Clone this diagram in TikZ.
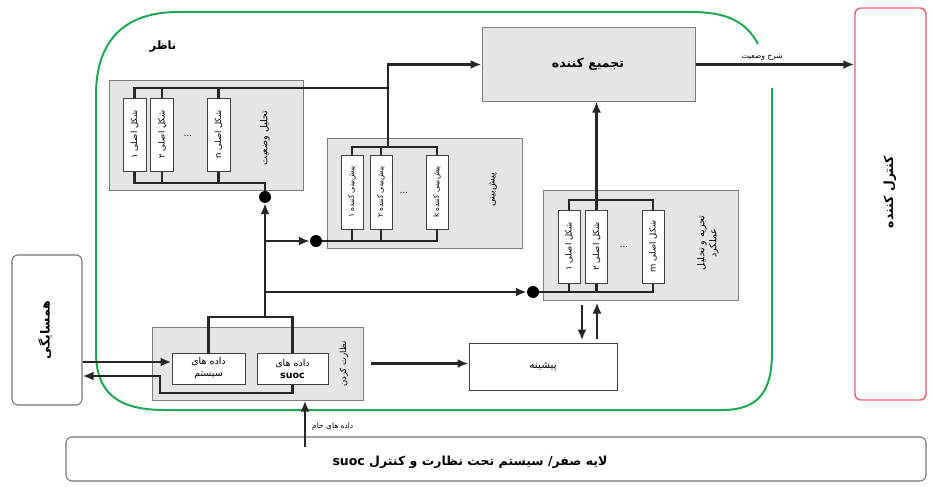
\documentclass[tikz,border=0pt]{standalone}
\usepackage{fontspec}
\usetikzlibrary{arrows.meta,calc}
\TeXXeTstate=1
\newfontfamily\fa[Script=Arabic]{DejaVu Sans}
\setmainfont{DejaVu Sans}
\newcommand\RT[1]{\beginR #1\endR}
\newcommand\LT[1]{\beginL #1\endL}
\definecolor{grn}{RGB}{30,170,85}
\definecolor{rd}{RGB}{230,95,110}
\definecolor{grpfill}{RGB}{229,229,229}
\definecolor{grpdraw}{RGB}{125,125,125}
\tikzset{
 grp/.style={draw=grpdraw, fill=grpfill, line width=1pt, inner sep=0pt},
 wbox/.style={draw=black!75, fill=white, line width=1pt, inner sep=0pt},
 conn/.style={line width=2.2pt, draw=black!85},
 arr/.style={conn, -{Latex[length=11pt,width=9pt]}},
 dotn/.style={circle, fill=black, inner sep=0pt, minimum size=12pt},
 lbl/.style={font=\fa\fontsize{8.5}{10}\selectfont, inner sep=0pt, align=center},
 slbl/.style={font=\fa\fontsize{7.5}{9}\selectfont, inner sep=0pt, align=center},
 glbl/.style={font=\fa\fontsize{9.5}{12}\selectfont, inner sep=0pt, align=center},
 big/.style={font=\fa\bfseries\fontsize{12.5}{15}\selectfont, inner sep=0pt, align=center},
}
\begin{document}
\begin{tikzpicture}[x=1pt,y=-1pt]
\path[use as bounding box] (0,0) rectangle (932,487);
% observer boundary
\draw[grn, line width=2pt] (758,44) .. controls (745,20) and (725,12) .. (690,12) -- (178,12)
  .. controls (125,12) and (96,40) .. (96,95) -- (96,352) .. controls (96,395) and (120,410) .. (165,410)
  -- (722,410) .. controls (760,410) and (772,390) .. (772,352) -- (772,88);
\node[big, font=\fa\bfseries\fontsize{11.5}{14}\selectfont] (naz) at (163,47) {\RT{ناظر}};
% controller
\node[draw=rd, line width=1.4pt, rounded corners=6pt, minimum width=71pt, minimum height=392pt, inner sep=0pt] (ctrl) at (890.5,204) {};
\node[big, rotate=90] (ctrlt) at (890,192) {\RT{کنترل کننده}};
% neighbour
\node[draw=black!55, line width=1.1pt, rounded corners=6pt, minimum width=70pt, minimum height=150pt, inner sep=0pt] (nb) at (47,330) {};
\node[big, rotate=90] (nbt) at (45,330) {\RT{همسایگی}};
% bottom layer
\node[draw=black!55, line width=1.1pt, rounded corners=6pt, minimum width=860pt, minimum height=44pt, inner sep=0pt] (layer) at (496,459) {};
\node[big] (layert) at (470,462) {\RT{لایه صفر/ سیستم تحت نظارت و کنترل \LT{suoc}}};
% aggregator
\node[grp, minimum width=213pt, minimum height=73pt] (agg) at (588.5,64.5) {};
\node[big] (aggt) at (588,64) {\RT{تجمیع کننده}};
% history
\node[wbox, minimum width=148pt, minimum height=47pt] (hist) at (543,366.5) {};
\node[glbl, font=\fa\fontsize{10.5}{12}\selectfont] (histt) at (543,367) {\RT{پیشینه}};
% group 1 : situation analysis
\node[grp, minimum width=194pt, minimum height=109pt] (g1) at (206,135.5) {};
\node[wbox, minimum width=23pt, minimum height=73pt] (g1b1) at (134.5,134.5) {};
\node[wbox, minimum width=23pt, minimum height=73pt] (g1b2) at (162,134.5) {};
\node[wbox, minimum width=23pt, minimum height=73pt] (g1b3) at (218.5,134.5) {};
\node[lbl, rotate=90] at (g1b1) {\RT{شکل اصلی ۱}};
\node[lbl, rotate=90] at (g1b2) {\RT{شکل اصلی ۲}};
\node[lbl, rotate=90] at (g1b3) {\RT{شکل اصلی \LT{n}}};
\node[lbl] (g1d) at (188,136) {...};
\node[glbl, rotate=90] (g1t) at (265,138) {\RT{تحلیل وضعیت}};
% group 2 : prediction
\node[grp, minimum width=195pt, minimum height=110pt] (g2) at (424.5,193) {};
\node[wbox, minimum width=22pt, minimum height=74pt] (g2b1) at (352,192) {};
\node[wbox, minimum width=22pt, minimum height=74pt] (g2b2) at (381,192) {};
\node[wbox, minimum width=22pt, minimum height=74pt] (g2b3) at (437,192) {};
\node[slbl, rotate=90] at (g2b1) {\RT{پیش‌بینی کننده ۱}};
\node[slbl, rotate=90] at (g2b2) {\RT{پیش‌بینی کننده ۲}};
\node[slbl, rotate=90] at (g2b3) {\RT{پیش‌بینی کننده \LT{k}}};
\node[lbl] (g2d) at (404,193) {...};
\node[glbl, rotate=90] (g2t) at (493,190) {\RT{پیش‌بینی}};
% group 3 : performance analysis
\node[grp, minimum width=195pt, minimum height=110pt] (g3) at (640.5,245) {};
\node[wbox, minimum width=22pt, minimum height=73pt] (g3b1) at (569,246.5) {};
\node[wbox, minimum width=22pt, minimum height=73pt] (g3b2) at (596.5,246.5) {};
\node[wbox, minimum width=22pt, minimum height=73pt] (g3b3) at (653,246.5) {};
\node[lbl, rotate=90] at (g3b1) {\RT{شکل اصلی ۱}};
\node[lbl, rotate=90] at (g3b2) {\RT{شکل اصلی ۲}};
\node[lbl, rotate=90] at (g3b3) {\RT{شکل اصلی \LT{m}}};
\node[lbl] (g3d) at (624,247) {...};
\node[glbl, rotate=90] (g3t) at (708,243) {\RT{تجزیه و تحلیل}\\\RT{عملکرد}};
% monitoring
\node[grp, minimum width=211pt, minimum height=73pt] (mon) at (257.5,363.5) {};
\node[wbox, minimum width=73pt, minimum height=31pt] (sys) at (208.5,368.5) {};
\node[wbox, minimum width=71pt, minimum height=31pt] (suoc) at (292.5,368.5) {};
\node[glbl] at (sys) {\RT{داده های}\\\RT{سیستم}};
\node[glbl] at (suoc) {\RT{داده های}\\\textbf{suoc}};
\node[lbl, rotate=90] (mont) at (344,364) {\RT{نظارت کردن}};
% dots
\node[dotn] (d1) at (265,197) {};
\node[dotn] (d2) at (316,241) {};
\node[dotn] (d3) at (533,292) {};
% coordinates
\coordinate (j1) at (388,88);
\coordinate (j2) at (388,147);
\coordinate (b1) at (265,183);
\coordinate (t3) at (0,200);
\coordinate (mj) at (265,317);
\coordinate (ya) at (0,362);
\coordinate (yb) at (0,376);
\coordinate (yc) at (0,393);
\coordinate (xc) at (160,0);
\coordinate (rawb) at (305,447);
% group 1 buses
\draw[conn] (g1b1.north) |- (j1);
\draw[conn] (g1b2.north) -- (g1b2.north |- j1);
\draw[conn] (g1b3.north) -- (g1b3.north |- j1);
\draw[conn] (g1b1.south) |- (b1) -- (d1.north);
\draw[conn] (g1b2.south) -- (g1b2.south |- b1);
\draw[conn] (g1b3.south) -- (g1b3.south |- b1);
% group 2 buses
\draw[conn] (g2b1.north) |- (g2b3.north |- j2) -- (g2b3.north);
\draw[conn] (g2b2.north) -- (g2b2.north |- j2);
\draw[conn] (d2.east) -- (g2b3.south |- d2.east) -- (g2b3.south);
\draw[conn] (g2b1.south) -- (g2b1.south |- d2.east);
\draw[conn] (g2b2.south) -- (g2b2.south |- d2.east);
% to aggregator
\draw[arr] (j2) |- (agg.west);
% group 3 buses
\draw[conn] (g3b1.north) |- (g3b3.north |- t3) -- (g3b3.north);
\draw[conn] (g3b2.north) -- (g3b2.north |- t3);
\draw[conn] (d3.east) -- (g3b3.south |- d3.east) -- (g3b3.south);
\draw[conn] (g3b1.south) -- (g3b1.south |- d3.east);
\draw[conn] (g3b2.south) -- (g3b2.south |- d3.east);
\draw[arr] (g3b2.north |- t3) -- (agg.south -| g3b2.north);
% aggregator to controller
\draw[arr] (agg.east) -- (ctrl.west |- agg.east) node[slbl, pos=0.42, above=3pt] {\RT{شرح وضعیت}};
% monitoring internal and trunk
\draw[conn] (sys.north) |- (suoc.north |- mj) -- (suoc.north);
\draw[arr] (mj) -- (d1.south);
\draw[arr] (mj |- d2.west) -- (d2.west);
\draw[arr] (mj |- d3.west) -- (d3.west);
% neighbour links
\draw[arr] (nb.east |- ya) -- (sys.west |- ya);
\draw[arr] (suoc.south) |- (xc |- yc) |- (nb.east |- yb);
% monitoring to history
\draw[arr] ($(mon.east)+(7,0)$) -- (hist.west |- mon.east);
% history <-> performance analysis
\draw[arr, shorten >=2pt, shorten <=4pt] (g3.south -| 582,0) -- (hist.north -| 582,0);
\draw[arr, shorten >=2pt, shorten <=4pt] (hist.north -| 597,0) -- (g3.south -| 597,0);
% raw data
\draw[arr] (rawb) -- (mon.south -| rawb);
\node[slbl, anchor=west] (rawt) at (312,427) {\RT{داده های خام}};
\end{tikzpicture}
\end{document}
